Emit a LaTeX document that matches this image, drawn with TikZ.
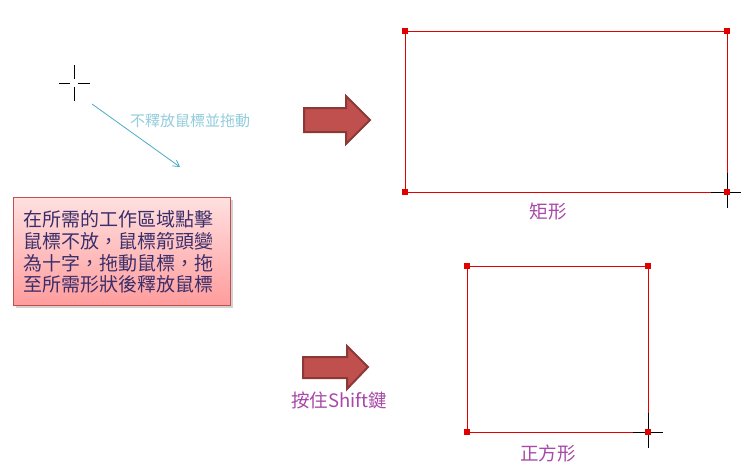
\documentclass[tikz,border=0pt]{standalone}
\usepackage{fontspec}
\newfontfamily\cjk{Noto Sans CJK TC}
\usetikzlibrary{arrows.meta,shadows}
\definecolor{rectred}{HTML}{E00000}
\definecolor{arrfill}{HTML}{C0504D}
\definecolor{arrdraw}{HTML}{8C3836}
\definecolor{lblpurple}{HTML}{A848A8}
\definecolor{dragblue}{HTML}{4BACC6}
\definecolor{draglbl}{HTML}{92CDDC}
\definecolor{boxtext}{HTML}{3A2F6B}
\definecolor{boxtop}{HTML}{FFE0E0}
\definecolor{boxbot}{HTML}{FF9C9C}
\definecolor{boxdraw}{HTML}{C0504D}
\tikzset{
  shape rect/.style={draw=rectred, line width=1pt},
  handle/.style={fill=rectred, draw=none, minimum size=5.5pt, inner sep=0pt, rectangle},
  cross/.style={draw=black, line width=0.9pt},
  blockarrow/.style={fill=arrfill, draw=arrdraw, line width=2pt, line join=miter},
  purplelbl/.style={text=lblpurple, font=\cjk\fontsize{18.5}{20}\selectfont, inner sep=0pt},
}
\begin{document}
\begin{tikzpicture}[x=1pt,y=-1pt]
\useasboundingbox (0,0) rectangle (751,471);
\fill[white] (0,0) rectangle (751,471);

% crosshair top-left
\coordinate (c0) at (74,83);
\draw[cross] (59,83) -- (70,83) (78,83) -- (90,83) (74,65) -- (74,79) (74,87) -- (74,101);

% drag arrow
\coordinate (d1) at (92,104);
\coordinate (d2) at (180,167);
\draw[draw=dragblue, line width=0.8pt, -{Straight Barb[length=6pt,width=7pt]}] (d1) -- (d2);
\node[text=draglbl, font=\cjk\fontsize{15}{17}\selectfont, inner sep=0pt, anchor=west] (dl) at (130,121) {不釋放鼠標並拖動};

% pink box
\node[draw=boxdraw, line width=1pt, top color=boxtop, bottom color=boxbot,
      drop shadow={shadow xshift=2pt, shadow yshift=-2pt, opacity=0.35},
      minimum width=217pt, minimum height=108pt, anchor=north west, inner sep=0pt] (box) at (13,197) {};
\node[text=boxtext, font=\cjk\fontsize{19}{21.7}\selectfont, align=left, inner sep=0pt, anchor=west] (bt) at (23,252)
  {在所需的工作區域點擊\\鼠標不放，鼠標箭頭變\\為十字，拖動鼠標，拖\\至所需形狀後釋放鼠標};

% block arrow 1
\draw[blockarrow] (304,108) -- (346,108) -- (346,96) -- (370,120) -- (346,144) -- (346,132) -- (304,132) -- cycle;
\node (a1) at (337,120) {};

% rectangle
\coordinate (r1a) at (405,31);
\coordinate (r1b) at (727,192);
\draw[shape rect] (r1a) rectangle (r1b);
\draw[cross] (711,192) -- (741,192) (727,173) -- (727,208);
\node[handle] at (405,31) {};
\node[handle] at (727,31) {};
\node[handle] at (405,192) {};
\node[handle] at (727,192) {};
\node[purplelbl] (l1) at (548,212) {矩形};

% block arrow 2
\draw[blockarrow] (303,357) -- (347,357) -- (347,346) -- (368,367) -- (347,389) -- (347,378) -- (303,378) -- cycle;
\node[purplelbl] (l2) at (339,400) {按住Shift鍵};

% square
\coordinate (r2a) at (467,266);
\coordinate (r2b) at (648,432);
\draw[shape rect] (r2a) rectangle (r2b);
\draw[cross] (633,432) -- (663,432) (648,413) -- (648,448);
\node[handle] at (467,266) {};
\node[handle] at (648,266) {};
\node[handle] at (467,432) {};
\node[handle] at (648,432) {};
\node[purplelbl] (l3) at (548,453) {正方形};
\end{tikzpicture}
\end{document}
